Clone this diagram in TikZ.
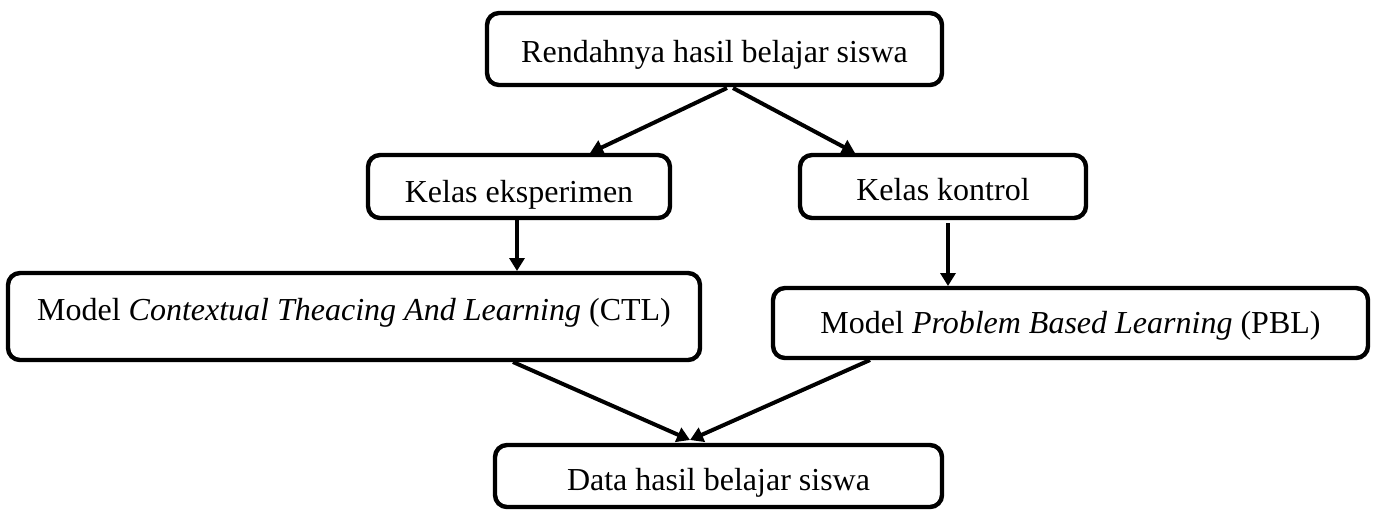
\documentclass[tikz,border=0pt]{standalone}
\usepackage{fontspec}
\setmainfont{Liberation Serif}
\usetikzlibrary{arrows.meta}
\begin{document}
\begin{tikzpicture}[x=0.5pt,y=-0.5pt,
  box/.style={draw=black, line width=2.2pt, rounded corners=6pt, fill=white,
    inner xsep=0pt, inner ysep=0pt, outer sep=0pt, anchor=north, align=center,
    font=\fontsize{16}{19}\selectfont},
  arr/.style={draw=black, line width=2pt, -{Triangle[length=6.5pt,width=7.5pt]}}]
\useasboundingbox (0,0) rectangle (1374,511);
\node[box, minimum width=227.5pt, text height=24.5pt, text depth=11.5pt] (b1) at (714.5,13) {Rendahnya hasil belajar siswa};
\node[box, minimum width=151pt, text height=23.5pt, text depth=8pt] (b2) at (519,155) {Kelas eksperimen};
\node[box, minimum width=143pt, text height=22.5pt, text depth=9pt] (b3) at (943,155) {Kelas kontrol};
\node[box, minimum width=346pt, text height=23.5pt, text depth=20pt] (b4) at (354,273) {Model \textit{Contextual Theacing And Learning} (CTL)};
\node[box, minimum width=297.5pt, text height=22.5pt, text depth=12.5pt] (b5) at (1070.5,288) {Model \textit{Problem Based Learning} (PBL)};
\node[box, minimum width=223.5pt, text height=22.5pt, text depth=8.5pt] (b6) at (718.5,445) {Data hasil belajar siswa};
\draw[arr] ([xshift=6.25pt,yshift=-1.5pt]b1.south) -- ([xshift=35.5pt,yshift=1pt]b2.north);
\draw[arr] ([xshift=9.25pt,yshift=-1.5pt]b1.south) -- ([xshift=-44pt,yshift=1pt]b3.north);
\draw[arr] ([xshift=-1pt]b2.south) -- ([xshift=81.5pt,yshift=1pt]b4.north);
\draw[arr] ([xshift=2.5pt,yshift=-2.5pt]b3.south) -- ([xshift=-61.25pt,yshift=1pt]b5.north);
\draw[arr] ([xshift=79.5pt,yshift=-1pt]b4.south) -- ([xshift=-14.25pt,yshift=2.5pt]b6.north);
\draw[arr] ([xshift=-100.25pt,yshift=-1pt]b5.south) -- ([xshift=-14.25pt,yshift=2.5pt]b6.north);
\end{tikzpicture}
\end{document}
